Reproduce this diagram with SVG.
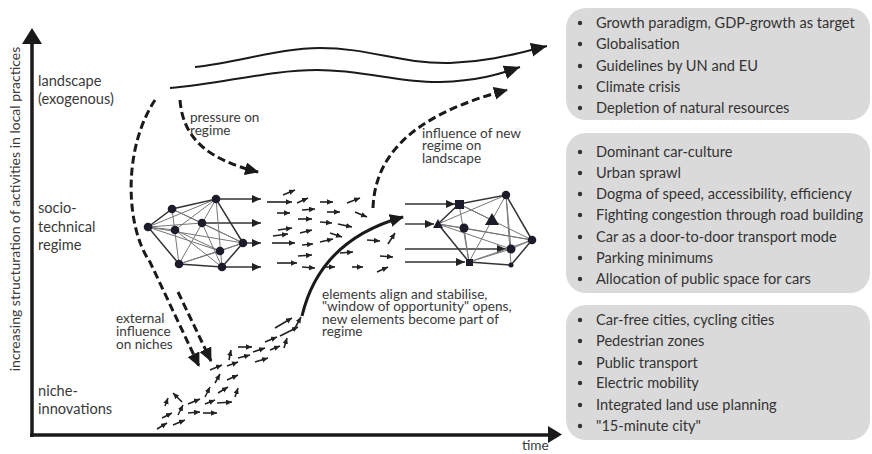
<svg xmlns="http://www.w3.org/2000/svg" width="872" height="454" viewBox="0 0 872 454">
  <style>
    .lbl { font-family: Lato, "Open Sans", "Liberation Sans", sans-serif; font-size: 13.6px; fill: #3a3a3a; }
    .lvl { font-family: Lato, "Open Sans", "Liberation Sans", sans-serif; font-size: 14.6px; fill: #3a3a3a; }
    .ax { font-family: Lato, "Open Sans", "Liberation Sans", sans-serif; font-size: 14px; fill: #3a3a3a; }
    .box { fill: #dadada; }
    .item { font-family: Lato, "Open Sans", "Liberation Sans", sans-serif; font-size: 14.6px; fill: #333; }
    .dot { fill: #333; }
    .axis { stroke: #1a1a1a; stroke-width: 3.5; fill: none; }
    .flow { stroke: #1a1a1a; stroke-width: 2; fill: none; }
    .dash { stroke: #1a1a1a; stroke-width: 3; fill: none; stroke-dasharray: 8 4; }
    .curve { stroke: #1a1a1a; stroke-width: 3; fill: none; }
    .sa { stroke: #222; stroke-width: 1.6; fill: none; }
    .na { stroke: #333; stroke-width: 1.4; fill: none; }
    .edge { stroke: #777; stroke-width: 1; fill: none; }
    .hull { stroke: #333; stroke-width: 1.5; fill: none; }
    .node { fill: #1b1b2a; }
  </style>
  <defs>
    <marker id="big" markerUnits="userSpaceOnUse" markerWidth="17" markerHeight="15" refX="16" refY="7" orient="auto">
      <path d="M0,0 L16,7 L0,14 z" fill="#1a1a1a"/>
    </marker>
    <marker id="dhead" markerUnits="userSpaceOnUse" markerWidth="15" markerHeight="14" refX="13" refY="6.5" orient="auto">
      <path d="M0,0 L14,6.5 L0,13 z" fill="#1a1a1a"/>
    </marker>
    <marker id="chead" markerUnits="userSpaceOnUse" markerWidth="15" markerHeight="14" refX="13" refY="6.5" orient="auto">
      <path d="M0,0 L14,6.5 L0,13 z" fill="#1a1a1a"/>
    </marker>
    <marker id="nhead" markerUnits="userSpaceOnUse" markerWidth="10" markerHeight="9" refX="9" refY="4" orient="auto">
      <path d="M0,0 L9,4 L0,8 z" fill="#222"/>
    </marker>
    <marker id="shead" markerUnits="userSpaceOnUse" markerWidth="7" markerHeight="6" refX="6" refY="2.75" orient="auto">
      <path d="M0,0 L6,2.75 L0,5.5 z" fill="#222"/>
    </marker>
  </defs>

  <!-- axes -->
  <g id="axes">
    <line class="axis" x1="32" y1="437" x2="32" y2="40"/>
    <polygon points="22,44 32,28 42,44" fill="#1a1a1a"/>
    <line class="axis" x1="30" y1="435" x2="550" y2="435"/>
    <polygon points="548,426 562,434.5 548,443" fill="#1a1a1a"/>
    <text class="ax" transform="translate(20,209) rotate(-90)" text-anchor="middle">increasing structuration of activities in local practices</text>
    <text class="lbl" x="522" y="450" font-size="13">time</text>
  </g>

  <!-- level labels -->
  <g id="level-landscape">
    <text class="lvl" x="38" y="86">landscape</text>
    <text class="lvl" x="38" y="104">(exogenous)</text>
  </g>
  <g id="level-regime">
    <text class="lvl" x="38" y="213">socio-</text>
    <text class="lvl" x="38" y="232">technical</text>
    <text class="lvl" x="38" y="250">regime</text>
  </g>
  <g id="level-niche">
    <text class="lvl" x="38" y="396">niche-</text>
    <text class="lvl" x="38" y="414">innovations</text>
  </g>

  <!-- connectors -->
  <g id="connectors">
    <!-- landscape developments -->
    <path class="flow" marker-end="url(#big)" d="M195,67 C240,62 280,48 320,48 C370,48 400,64 450,63 C490,62 518,53 547,46"/>
    <path class="flow" marker-end="url(#big)" d="M170,88 C220,84 270,70 317,70 C365,70 400,83 440,82 C478,81 500,74 520,67"/>
    <!-- pressure on regime -->
    <path class="dash" marker-end="url(#dhead)" d="M180,100 C183,140 210,160 258,172"/>
    <!-- external influence on niches -->
    <path class="dash" marker-end="url(#dhead)" d="M155,100 C122,150 126,228 150,262 L199,366"/>
    <path class="dash" marker-end="url(#dhead)" d="M178,292 L211,361"/>
    <!-- influence of new regime on landscape -->
    <path class="dash" marker-end="url(#dhead)" d="M373,208 C375,150 420,113 507,90"/>
    <!-- breakthrough of aligned elements -->
    <path class="curve" marker-end="url(#chead)" d="M302,316 Q320,240 403,217"/>

    <!-- small element arrows in the regime -->
    <g class="sa" marker-end="url(#shead)">
      <line x1="283" y1="195" x2="295" y2="190"/>
      <line x1="267" y1="202" x2="292" y2="202"/>
      <line x1="297" y1="203" x2="308" y2="198"/>
      <line x1="320" y1="202" x2="333" y2="202"/>
      <line x1="347" y1="203" x2="360" y2="198"/>
      <line x1="277" y1="213" x2="290" y2="213"/>
      <line x1="302" y1="210" x2="315" y2="209"/>
      <line x1="327" y1="212" x2="340" y2="212"/>
      <line x1="355" y1="212" x2="367" y2="217"/>
      <line x1="298" y1="219" x2="312" y2="219"/>
      <line x1="320" y1="222" x2="332" y2="223"/>
      <line x1="338" y1="224" x2="352" y2="227"/>
      <line x1="278" y1="230" x2="292" y2="228"/>
      <line x1="273" y1="236" x2="288" y2="234"/>
      <line x1="300" y1="233" x2="312" y2="230"/>
      <line x1="330" y1="233" x2="342" y2="237"/>
      <line x1="272" y1="243" x2="295" y2="243"/>
      <line x1="302" y1="245" x2="313" y2="244"/>
      <line x1="320" y1="242" x2="333" y2="239"/>
      <line x1="367" y1="240" x2="380" y2="241"/>
      <line x1="388" y1="244" x2="395" y2="233"/>
      <line x1="298" y1="256" x2="312" y2="255"/>
      <line x1="340" y1="253" x2="353" y2="252"/>
      <line x1="380" y1="256" x2="393" y2="257"/>
      <line x1="277" y1="263" x2="297" y2="263"/>
      <line x1="302" y1="267" x2="315" y2="268"/>
      <line x1="325" y1="267" x2="335" y2="267"/>
      <line x1="352" y1="267" x2="363" y2="267"/>
      <line x1="377" y1="272" x2="388" y2="267"/>
    </g>

    <!-- small element arrows in the niches -->
    <g class="sa" marker-end="url(#shead)">
      <line x1="157" y1="429" x2="167" y2="423"/>
      <line x1="173" y1="425" x2="185" y2="420"/>
      <line x1="162" y1="418" x2="172" y2="413"/>
      <line x1="178" y1="415" x2="183" y2="405"/>
      <line x1="165" y1="406" x2="168" y2="398"/>
      <line x1="182" y1="402" x2="173" y2="393"/>
      <line x1="188" y1="404" x2="200" y2="399"/>
      <line x1="188" y1="413" x2="200" y2="412"/>
      <line x1="203" y1="413" x2="217" y2="413"/>
      <line x1="205" y1="404" x2="215" y2="400"/>
      <line x1="205" y1="397" x2="210" y2="387"/>
      <line x1="217" y1="403" x2="232" y2="402"/>
      <line x1="218" y1="393" x2="228" y2="387"/>
      <line x1="235" y1="397" x2="238" y2="388"/>
      <line x1="215" y1="383" x2="220" y2="374"/>
      <line x1="227" y1="380" x2="238" y2="375"/>
      <line x1="210" y1="370" x2="222" y2="365"/>
      <line x1="227" y1="366" x2="238" y2="362"/>
      <line x1="229" y1="360" x2="231" y2="350"/>
      <line x1="238" y1="347" x2="252" y2="347"/>
      <line x1="238" y1="358" x2="250" y2="355"/>
      <line x1="253" y1="352" x2="265" y2="348"/>
      <line x1="255" y1="362" x2="268" y2="358"/>
      <line x1="265" y1="342" x2="277" y2="337"/>
      <line x1="270" y1="350" x2="280" y2="346"/>
      <line x1="275" y1="328" x2="292" y2="318"/>
      <line x1="280" y1="336" x2="298" y2="327"/>
      <line x1="284" y1="348" x2="287" y2="338"/>
      <line x1="295" y1="328" x2="301" y2="317"/>
    </g>

    <!-- outputs of the current regime -->
    <g class="na" marker-end="url(#nhead)">
      <line x1="216" y1="199" x2="261" y2="199"/>
      <line x1="202" y1="223" x2="261" y2="223"/>
      <line x1="243" y1="243" x2="261" y2="243"/>
      <line x1="222" y1="267" x2="261" y2="267"/>
    </g>
    <!-- inputs of the new regime -->
    <g class="na" marker-end="url(#nhead)">
      <line x1="405" y1="204" x2="455" y2="204"/>
      <line x1="405" y1="224" x2="434" y2="224"/>
      <line x1="405" y1="249" x2="506" y2="249"/>
      <line x1="405" y1="262" x2="465" y2="262"/>
    </g>
  </g>

  <!-- current regime network -->
  <g id="regime-current">
    <g class="edge">
      <line x1="148" y1="227" x2="216" y2="199"/>
      <line x1="148" y1="227" x2="202" y2="223"/>
      <line x1="148" y1="227" x2="175" y2="230"/>
      <line x1="148" y1="227" x2="243" y2="243"/>
      <line x1="148" y1="227" x2="220" y2="251"/>
      <line x1="172" y1="209" x2="202" y2="223"/>
      <line x1="172" y1="209" x2="179" y2="264"/>
      <line x1="172" y1="209" x2="243" y2="243"/>
      <line x1="216" y1="199" x2="175" y2="230"/>
      <line x1="216" y1="199" x2="179" y2="264"/>
      <line x1="216" y1="199" x2="222" y2="267"/>
      <line x1="202" y1="223" x2="243" y2="243"/>
      <line x1="202" y1="223" x2="222" y2="267"/>
      <line x1="175" y1="230" x2="220" y2="251"/>
      <line x1="175" y1="230" x2="222" y2="267"/>
      <line x1="179" y1="264" x2="220" y2="251"/>
      <line x1="220" y1="251" x2="243" y2="243"/>
      <line x1="179" y1="264" x2="243" y2="243"/>
    </g>
    <g class="hull">
      <polygon points="148,227 172,209 216,199 243,243 222,267 179,264"/>
    </g>
    <g class="node">
      <circle cx="148" cy="227" r="4.3"/>
      <circle cx="172" cy="209" r="4.3"/>
      <circle cx="216" cy="199" r="4.3"/>
      <circle cx="202" cy="223" r="4.3"/>
      <circle cx="175" cy="230" r="4.3"/>
      <circle cx="243" cy="243" r="4.3"/>
      <circle cx="220" cy="251" r="4.3"/>
      <circle cx="179" cy="264" r="4.3"/>
      <circle cx="222" cy="267" r="4.3"/>
    </g>
  </g>

  <!-- new regime network -->
  <g id="regime-new">
    <g class="edge">
      <line x1="438" y1="224" x2="506" y2="195"/>
      <line x1="438" y1="224" x2="464" y2="228"/>
      <line x1="438" y1="224" x2="532" y2="240"/>
      <line x1="438" y1="224" x2="511" y2="249"/>
      <line x1="459" y1="204" x2="492" y2="220"/>
      <line x1="459" y1="204" x2="532" y2="240"/>
      <line x1="459" y1="204" x2="469" y2="262"/>
      <line x1="464" y1="228" x2="532" y2="240"/>
      <line x1="464" y1="228" x2="469" y2="262"/>
      <line x1="492" y1="220" x2="506" y2="195"/>
      <line x1="492" y1="220" x2="469" y2="262"/>
      <line x1="506" y1="195" x2="511" y2="249"/>
      <line x1="506" y1="195" x2="511" y2="265"/>
      <line x1="511" y1="249" x2="532" y2="240"/>
      <line x1="469" y1="262" x2="511" y2="249"/>
      <line x1="469" y1="262" x2="532" y2="240"/>
    </g>
    <g class="hull">
      <polygon points="459,204 506,195 532,240 511,265 469,262 438,224"/>
    </g>
    <g class="node">
      <rect x="455" y="200" width="9" height="9"/>
      <polygon points="438,219 443,228 433,228"/>
      <circle cx="464" cy="228" r="4.5"/>
      <polygon points="492,213 499,225 485,225"/>
      <circle cx="506" cy="195" r="4.2"/>
      <circle cx="532" cy="240" r="4.3"/>
      <circle cx="511" cy="249" r="4.5"/>
      <rect x="466" y="259" width="7" height="7"/>
      <circle cx="511" cy="265" r="2.5"/>
    </g>
  </g>

  <!-- connector labels -->
  <g id="label-pressure">
    <text class="lbl" x="190" y="122">pressure on</text>
    <text class="lbl" x="190" y="134.5">regime</text>
  </g>
  <g id="label-influence">
    <text class="lbl" x="422" y="137.5">influence of new</text>
    <text class="lbl" x="422" y="150">regime on</text>
    <text class="lbl" x="422" y="162.5">landscape</text>
  </g>
  <g id="label-external">
    <text class="lbl" x="116" y="323">external</text>
    <text class="lbl" x="116" y="336">influence</text>
    <text class="lbl" x="116" y="349">on niches</text>
  </g>
  <g id="label-align">
    <text class="lbl" x="322" y="298.5">elements align and stabilise,</text>
    <text class="lbl" x="322" y="311">"window of opportunity" opens,</text>
    <text class="lbl" x="322" y="323.5">new elements become part of</text>
    <text class="lbl" x="322" y="336">regime</text>
  </g>

  <!-- landscape factors -->
  <g id="box-landscape">
    <rect class="box" x="566" y="8" width="304" height="112" rx="20"/>
    <g class="dot">
      <circle cx="580" cy="23" r="2.2"/><circle cx="580" cy="44" r="2.2"/><circle cx="580" cy="66" r="2.2"/><circle cx="580" cy="87" r="2.2"/><circle cx="580" cy="108" r="2.2"/>
    </g>
    <text class="item" x="596" y="28">Growth paradigm, GDP-growth as target</text>
    <text class="item" x="596" y="49">Globalisation</text>
    <text class="item" x="596" y="71">Guidelines by UN and EU</text>
    <text class="item" x="596" y="92">Climate crisis</text>
    <text class="item" x="596" y="113">Depletion of natural resources</text>
  </g>

  <!-- regime factors -->
  <g id="box-regime">
    <rect class="box" x="566" y="133" width="304" height="160" rx="20"/>
    <g class="dot">
      <circle cx="580" cy="152" r="2.2"/><circle cx="580" cy="173" r="2.2"/><circle cx="580" cy="194" r="2.2"/><circle cx="580" cy="215" r="2.2"/><circle cx="580" cy="237" r="2.2"/><circle cx="580" cy="258" r="2.2"/><circle cx="580" cy="279" r="2.2"/>
    </g>
    <text class="item" x="596" y="157">Dominant car-culture</text>
    <text class="item" x="596" y="178">Urban sprawl</text>
    <text class="item" x="596" y="199">Dogma of speed, accessibility, efficiency</text>
    <text class="item" x="596" y="220">Fighting congestion through road building</text>
    <text class="item" x="596" y="242">Car as a door-to-door transport mode</text>
    <text class="item" x="596" y="263">Parking minimums</text>
    <text class="item" x="596" y="284">Allocation of public space for cars</text>
  </g>

  <!-- niche factors -->
  <g id="box-niche">
    <rect class="box" x="566" y="305" width="304" height="135" rx="20"/>
    <g class="dot">
      <circle cx="580" cy="320" r="2.2"/><circle cx="580" cy="341" r="2.2"/><circle cx="580" cy="363" r="2.2"/><circle cx="580" cy="383" r="2.2"/><circle cx="580" cy="405" r="2.2"/><circle cx="580" cy="426" r="2.2"/>
    </g>
    <text class="item" x="596" y="325">Car-free cities, cycling cities</text>
    <text class="item" x="596" y="346">Pedestrian zones</text>
    <text class="item" x="596" y="368">Public transport</text>
    <text class="item" x="596" y="388">Electric mobility</text>
    <text class="item" x="596" y="410">Integrated land use planning</text>
    <text class="item" x="596" y="431">"15-minute city"</text>
  </g>
</svg>
